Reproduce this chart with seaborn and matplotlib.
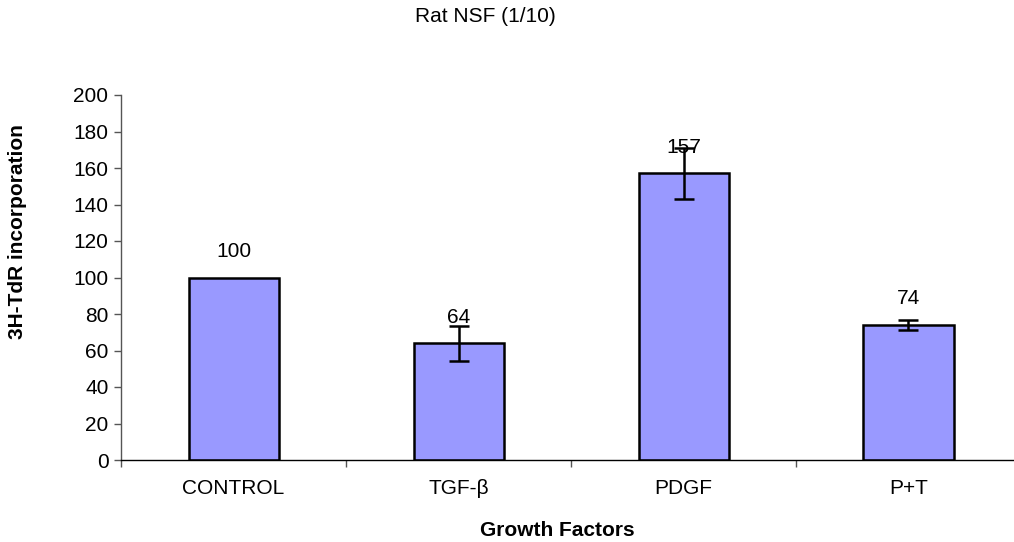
import matplotlib
matplotlib.use("Agg")
import matplotlib.pyplot as plt
import seaborn as sns
import numpy as np
from matplotlib.ticker import FixedLocator

categories = ["CONTROL", "TGF-β", "PDGF", "P+T"]
values = [100, 64, 157, 74]
errors = [0, 9.6, 14, 2.5]
yticks = [0, 20, 40, 60, 80, 100, 120, 140, 160, 180, 200]

sns.set_style("white")
plt.rcParams["font.family"] = ["Liberation Sans", "DejaVu Sans"]
plt.rcParams["text.color"] = "black"
plt.rcParams["xtick.color"] = "black"
plt.rcParams["ytick.color"] = "black"

FS = 15

fig = plt.figure(figsize=(10.14, 5.42), dpi=100)
ax = fig.add_axes([121/1014, 82/542, 900/1014, 365/542])

sns.barplot(x=categories, y=values, color="#9999FF", edgecolor="black",
            linewidth=1.8, width=0.4, saturation=1, ax=ax)
idx = [i for i, e in enumerate(errors) if e > 0]
ax.errorbar(idx, [values[i] for i in idx], yerr=[errors[i] for i in idx], fmt="none",
            ecolor="black", elinewidth=1.8, capsize=7, capthick=1.8)

for i, v in enumerate(values):
    ax.annotate(str(v), (i, v), xytext=(0, 12), textcoords="offset points",
                ha="center", va="bottom", fontsize=FS, color="black")

ax.set_xlim(-0.5, len(categories) - 0.5)
ax.set_ylim(0, 200)
ax.set_yticks(yticks)
ax.set_yticklabels([str(t) for t in yticks], fontsize=FS)
ax.set_xticks(np.arange(len(categories)))
ax.set_xticklabels(categories, fontsize=FS)
ax.tick_params(axis="x", which="major", length=0, pad=14)
ax.xaxis.set_minor_locator(FixedLocator(np.arange(-0.5, len(categories), 1.0)))
ax.tick_params(axis="x", which="minor", length=5, width=1, color="#555555", direction="out", bottom=True)
ax.tick_params(axis="y", length=5, width=1, color="#555555", direction="out", left=True, pad=4)
for s in ["top", "right"]:
    ax.spines[s].set_visible(False)
ax.spines["left"].set_color("#555555")
ax.spines["bottom"].set_color("black")
ax.spines["left"].set_linewidth(1)
ax.spines["bottom"].set_linewidth(1)
ax.set_xlabel("")
ax.set_ylabel("")

fig.text(485/1014, 1 - 16/542, "Rat NSF (1/10)", ha="center", va="center", fontsize=FS)
fig.text(557/1014, 1 - 530/542, "Growth Factors", ha="center", va="center", fontsize=FS, fontweight="bold")
fig.text(18/1014, 1 - 232/542, "3H-TdR incorporation", ha="center", va="center", rotation=90,
         fontsize=FS, fontweight="bold")

fig.savefig("out.png", dpi=100)
